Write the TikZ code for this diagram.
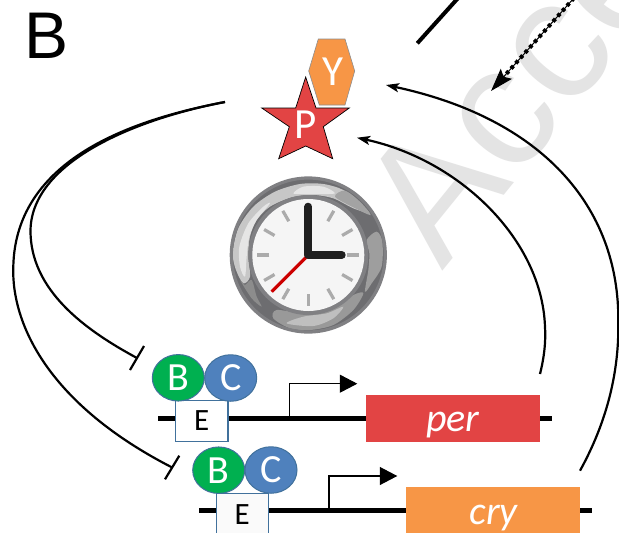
\documentclass[tikz,border=0pt]{standalone}
\usepackage{fontspec}
\setmainfont{Carlito}
\newfontfamily\arialfont{Liberation Sans}
\usetikzlibrary{arrows.meta,calc,shapes.geometric}
\definecolor{wm}{HTML}{E4E4E4}
\definecolor{redg}{HTML}{E24444}
\definecolor{orng}{HTML}{F79646}
\definecolor{grn}{HTML}{00B050}
\definecolor{blu}{HTML}{4F81BD}
\definecolor{edgeb}{HTML}{41719C}
\definecolor{ringdark}{HTML}{6D6D70}
\definecolor{ringedge}{HTML}{808083}
\tikzset{
  curve/.style={line width=2.2pt,black},
  inhib/.style={line width=2.2pt,black},
  activ/.style={curve,-{Stealth[length=13pt,width=9pt,inset=3pt]}},
  geneline/.style={line width=5.5pt,black},
  prom/.style={line width=1.1pt,black,-{Triangle[length=17.5pt,width=18pt]}},
  genebox/.style={draw=none,minimum height=47pt,inner sep=0pt},
  ebox/.style={draw=edgeb,line width=1.1pt,inner sep=0pt,font=\fontsize{31}{31}\selectfont},
  prot/.style={draw=edgeb,line width=1pt,ellipse,minimum width=52pt,minimum height=46.5pt,inner sep=0pt,text=white,font=\fontsize{40}{40}\selectfont},
  lbl/.style={inner sep=0pt,text=white,font=\fontsize{43}{43}\selectfont},
  genelbl/.style={anchor=base,inner sep=0pt,text=white,font=\fontsize{40}{40}\selectfont\itshape},
  tick/.style={line width=3.2pt,color=black!33},
}
\begin{document}
\begin{tikzpicture}[x=1pt,y=-1pt]
\useasboundingbox (0,0) rectangle (619,533);
\clip (0,0) rectangle (619,533);
\fill[white] (0,0) rectangle (619,533);
% watermark
\node[anchor=base west,inner sep=0pt,rotate=51,text=wm,font=\arialfont\fontsize{172}{172}\selectfont] (wmark) at (442,272) {Acce};
% panel letter
\node[anchor=base west,inner sep=0pt,font=\arialfont\fontsize{66}{66}\selectfont] (panel) at (24,58.3) {B};
% upstream lines
\coordinate (solidA) at (417.3,43.3);
\coordinate (solidB) at (459,-3);
\draw[line width=4pt] (solidA) -- (solidB);
\coordinate (dashA) at (574,-2);
\coordinate (dashB) at (491,91);
\draw[line width=1pt,-{Stealth[length=23pt,width=15pt,inset=4pt]}] (dashA) -- (dashB);
\draw[line width=4pt,dash pattern=on 3.5pt off 3.5pt] (dashA) -- ($(dashA)!0.88!(dashB)$);
% clock
\coordinate (clock) at (308.3,255);
\fill[ringdark] (clock) circle (77);
\begin{scope}[shift={(220,170)},scale=1/3]
\fill[black!22] plot[smooth cycle] coordinates {(48,300) (38,250) (55,175) (100,110) (165,65) (240,42) (310,42) (370,60) (420,100) (445,128) (400,115) (340,85) (280,75) (215,82) (150,110) (110,150) (90,200) (85,260) (90,320) (70,340)};
\fill[black!10] plot[smooth cycle] coordinates {(60,290) (58,230) (85,160) (130,110) (150,100) (110,150) (88,200) (80,260) (75,320)};
\fill[black!10] plot[smooth cycle] coordinates {(220,70) (250,50) (310,50) (345,70) (300,72) (250,72)};
\fill[black!36] plot[smooth cycle] coordinates {(345,80) (375,62) (420,95) (452,135) (400,112)};
\fill[black!38] plot[smooth cycle] coordinates {(440,210) (470,185) (487,215) (485,290) (455,340) (435,365) (445,300) (448,250)};
\fill[black!40] plot[smooth cycle] coordinates {(160,445) (170,420) (250,430) (330,420) (400,375) (430,370) (400,420) (340,465) (270,480) (210,475)};
\fill[black!25] plot[smooth cycle] coordinates {(200,460) (250,440) (320,430) (370,410) (340,445) (280,468)};
\fill[black!45] plot[smooth cycle] coordinates {(60,330) (75,345) (95,330) (110,380) (125,410) (95,385)};
\end{scope}
\draw[ringedge,line width=3.2pt] (clock) circle (77);
\fill[ringedge] (clock) circle (60);
\fill[black!4] (clock) circle (56);
\foreach \a in {300,330,0,30,60,90,120,150,180,210,240}
  \draw[tick] ($(clock)+(\a:39)$) -- ($(clock)+(\a:51)$);
\coordinate (minute) at (308.3,206.7);
\coordinate (hour) at (341.7,255);
\coordinate (second) at (271.7,291.7);
\draw[line width=3.2pt,color=red!80!black] (clock) -- (second);
\draw[line width=8pt,color=black!88,line cap=round,line join=round] (minute) -- (clock) -- (hour);
% hexagon
\filldraw[fill=orng,draw=black!45,line width=.6pt] (318.3,39) -- (345,39) -- (354.7,71) -- (345,105) -- (319.3,105) -- (308.7,71) -- cycle;
\node[lbl] (Y) at (333,72) {Y};
% star
\def\starpath{(305.7,77) -- (316,108) -- (349.3,108) -- (323.3,126.7) -- (332.7,158.7) -- (305.7,146) -- (278.7,158.7) -- (289.3,126.7) -- (261.7,108) -- (295.7,108) -- cycle}
\draw[white,line width=3.5pt,line join=miter] \starpath;
\filldraw[fill=redg,draw=black,line width=.7pt] \starpath;
\node[lbl] (P) at (305.7,125) {P};
% feedback arrows
\coordinate (outerS) at (580,470.7);
\coordinate (outerM) at (618.3,323);
\coordinate (outerT) at (386,85);
\draw[activ] (outerS) .. controls (608,420) and (619,370) .. (outerM) .. controls (620,205) and (540,118) .. (outerT);
\coordinate (innerS) at (540,374);
\coordinate (innerM) at (545,326.7);
\coordinate (innerT) at (357,137.7);
\draw[activ] (innerS) .. controls (544,358) and (546,342) .. (innerM) .. controls (542,240) and (460,160) .. (innerT);
% repression curves
\coordinate (repS) at (225,102);
\coordinate (rep1M) at (30.5,230);
\coordinate (rep1E) at (137,358);
\coordinate (rep2M) at (13.3,266);
\coordinate (rep2E) at (172.2,467.5);
\coordinate (bar1a) at (144,346);
\coordinate (bar1b) at (130,370);
\coordinate (bar2a) at (179.3,455.7);
\coordinate (bar2b) at (165,479.3);
\draw[curve] (repS) .. controls (140,118) and (32,160) .. (rep1M) .. controls (30,290) and (85,330) .. (rep1E);
\draw[curve] (repS) .. controls (130,120) and (16,160) .. (rep2M) .. controls (11,325) and (50,405) .. (rep2E);
\draw[inhib] (bar1a) -- (bar1b);
\draw[inhib] (bar2a) -- (bar2b);
% gene 1
\coordinate (g1a) at (158.3,418.3);
\coordinate (g1b) at (551.7,418.3);
\draw[geneline] (g1a) -- (g1b);
\node[genebox,fill=redg,minimum width=174pt] (per) at (453,418.5) {};
\node[genelbl] (perT) at (453,431.7) {per};
\node[ebox,fill=white,minimum width=52.3pt,minimum height=40.6pt] (E1) at (201.8,421) {E};
\node[prot,fill=grn] (B1) at (178.3,377.8) {B};
\node[prot,fill=blu] (C1) at (230.7,378) {C};
\coordinate (p1a) at (289.3,418);
\coordinate (p1b) at (289.3,383.7);
\coordinate (p1c) at (357.3,383.7);
\draw[prom] (p1a) -- (p1b) -- (p1c);
% gene 2
\coordinate (g2a) at (199,510.7);
\coordinate (g2b) at (591.7,510.7);
\draw[geneline] (g2a) -- (g2b);
\node[genebox,fill=orng,minimum width=174pt,minimum height=46pt] (cry) at (493,510) {};
\node[genelbl] (cryT) at (493.6,524.3) {cry};
\node[ebox,fill=black!2,minimum width=52pt,minimum height=50pt] (E2) at (242.3,518.3) {};
\node[inner sep=0pt,font=\fontsize{31}{31}\selectfont] (E2T) at (242.3,515) {E};
\node[prot,fill=grn] (B2) at (218.7,470.2) {B};
\node[prot,fill=blu] (C2) at (271,470) {C};
\coordinate (p2a) at (329,510);
\coordinate (p2b) at (329,476);
\coordinate (p2c) at (397.3,476);
\draw[prom] (p2a) -- (p2b) -- (p2c);
\end{tikzpicture}
\end{document}
